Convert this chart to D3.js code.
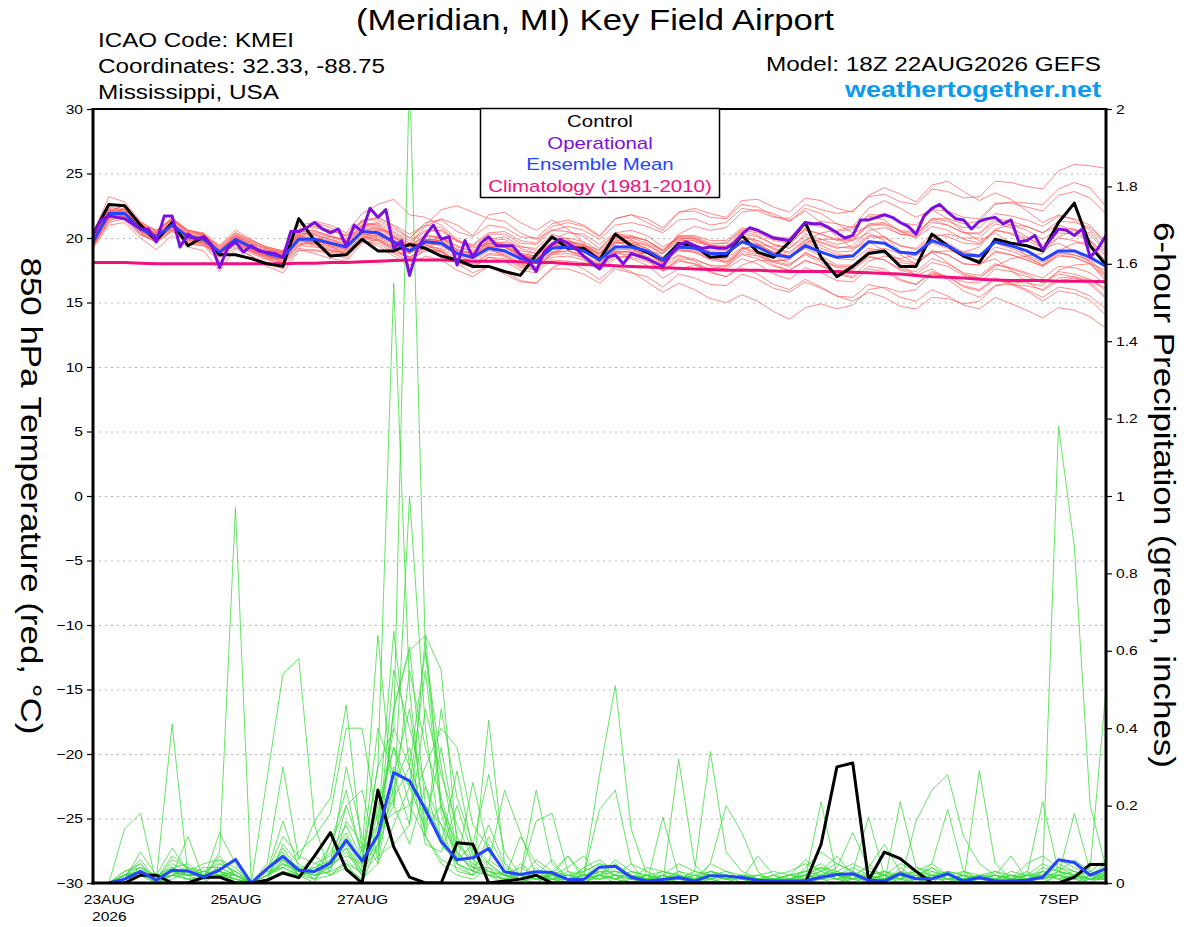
<!DOCTYPE html>
<html>
<head>
<meta charset="utf-8">
<script src="https://cdn.jsdelivr.net/npm/d3@7"></script>
<style>
  body { margin: 0; background: #fff; }
  svg { display: block; font-family: "Liberation Sans", Arial, Helvetica, sans-serif; }
</style>
</head>
<body>
<div id="chart"></div>
<script>
// GEFS run 18Z 22AUG2026, 6-hourly out to 384h (operational is 3-hourly)
const runStart = Date.UTC(2026, 7, 22, 18);
const HOUR = 3600 * 1000;

const tempTicks = [-30, -25, -20, -15, -10, -5, 0, 5, 10, 15, 20, 25, 30];
const precipTicks = [0, 0.2, 0.4, 0.6, 0.8, 1, 1.2, 1.4, 1.6, 1.8, 2];
const dateTicks = [
  Date.UTC(2026, 7, 23), Date.UTC(2026, 7, 25), Date.UTC(2026, 7, 27), Date.UTC(2026, 7, 29),
  Date.UTC(2026, 8, 1), Date.UTC(2026, 8, 3), Date.UTC(2026, 8, 5), Date.UTC(2026, 8, 7)
];
const dateLabels = ["23AUG", "25AUG", "27AUG", "29AUG", "1SEP", "3SEP", "5SEP", "7SEP"];

const legendItems = ["Control", "Operational", "Ensemble Mean", "Climatology (1981-2010)"];
const legendColors = ["#000000", "#7d0ee0", "#2444ff", "#f0107e"];

// 850 hPa temperature, 65 steps
const controlTemp = [20.3, 22.6, 22.5, 21.0, 19.8, 21.2, 19.4, 20.1, 18.7, 18.7, 18.4, 18.0, 17.8,
  21.5, 19.8, 18.6, 18.7, 19.9, 19.0, 19.0, 19.5, 19.2, 18.6, 18.3, 17.8, 17.8, 17.4, 17.1, 18.7,
  20.1, 19.2, 19.2, 18.3, 20.3, 19.4, 18.9, 18.3, 19.6, 19.4, 18.5, 18.6, 20.2, 18.9, 18.5, 19.7,
  21.2, 18.5, 17.0, 17.8, 18.8, 19.0, 17.8, 17.8, 20.3, 19.4, 18.6, 18.1, 19.9, 19.6, 19.4, 19.0,
  21.2, 22.7, 19.4, 17.9];

const meanTemp = [19.7, 21.9, 21.9, 20.7, 20.1, 21.0, 20.1, 19.9, 18.9, 19.9, 19.3, 18.8, 18.5,
  19.9, 19.9, 19.6, 19.3, 20.5, 20.4, 19.7, 19.0, 19.7, 19.6, 18.8, 18.5, 19.2, 19.0, 18.4, 18.2,
  19.2, 19.3, 19.0, 18.3, 19.3, 19.3, 19.0, 18.3, 19.3, 19.2, 18.8, 18.8, 19.7, 19.3, 18.7, 18.5,
  19.4, 18.9, 18.5, 18.6, 19.7, 19.6, 18.9, 18.8, 19.8, 19.4, 18.7, 18.6, 19.7, 19.4, 19.0, 18.3,
  19.0, 19.0, 18.5, 17.8];

const climoTemp = [18.1, 18.1, 18.1, 18.05, 18.0, 18.0, 18.0, 18.0, 18.0, 18.0,
  18.0, 18.0, 18.0, 18.05, 18.05, 18.1, 18.1, 18.15, 18.2, 18.25,
  18.3, 18.3, 18.3, 18.25, 18.2, 18.2, 18.2, 18.15, 18.1, 18.1,
  18.0, 17.95, 17.9, 17.85, 17.8, 17.75, 17.7, 17.65, 17.6, 17.55,
  17.5, 17.5, 17.5, 17.45, 17.4, 17.4, 17.4, 17.4, 17.35, 17.3,
  17.25, 17.2, 17.1, 17.0, 16.95, 16.9, 16.8, 16.75, 16.7, 16.7,
  16.7, 16.65, 16.65, 16.65, 16.6];

// operational run, 3-hourly, 129 steps
const operTemp = [20.2, 21.4, 21.7, 21.6, 21.5, 21.1, 20.7, 20.7, 19.7, 21.7,
  21.7, 19.3, 20.3, 19.9, 20.1, 19.4, 17.7, 19.2, 19.7, 18.9,
  19.4, 19.0, 18.9, 18.8, 18.5, 20.5, 20.5, 20.8, 21.2, 20.7,
  20.4, 20.7, 19.4, 21.0, 20.5, 22.3, 21.6, 22.2, 19.2, 19.8,
  17.1, 19.2, 20.2, 21.0, 19.9, 20.1, 17.9, 19.8, 18.5, 19.6,
  20.1, 19.4, 19.4, 19.4, 18.7, 18.3, 17.4, 18.9, 19.5, 19.9,
  19.6, 19.2, 18.6, 18.1, 17.6, 18.5, 18.7, 18.0, 18.8, 18.6,
  18.4, 18.1, 17.8, 18.7, 19.5, 19.7, 19.4, 19.2, 19.3, 19.2,
  19.2, 19.6, 20.3, 20.8, 20.6, 20.3, 20.0, 19.9, 19.8, 20.5,
  21.2, 21.1, 21.1, 20.8, 20.4, 20.0, 20.2, 21.4, 21.4, 21.6,
  21.8, 21.6, 21.2, 20.9, 20.3, 21.7, 22.3, 22.6, 22.0, 21.5,
  21.4, 20.7, 21.3, 21.5, 21.6, 21.1, 21.4, 19.7, 19.8, 20.2,
  19.1, 19.9, 20.7, 20.6, 20.2, 20.7, 18.5, 19.2, 20.2];

// ensemble members (thin red)
const memberTemp = [
  [19.6,21.6,22.4,20.9,20.3,21.3,20.4,20.2,19.3,20.3,19.7,19.1,18.9, 20.4,20.6,20.1,19.8,21.0,21.1,20.2,19.6,20.5,20.6,19.8,19.4,20.3,20.3,19.6,19.5, 20.6,20.9,20.6,19.9,21.0,21.2,20.9,20.4,21.4,21.5,21.0,21.2,22.3,22.1,21.6,21.5, 22.6,22.2,21.9,22.1,23.2,23.4,22.8,22.6,23.8,23.6,23.1,23.2,24.4,24.3,24.0,23.8,25.2,25.7,25.6,25.4],
  [19.4,21.2,21.5,20.4,19.6,20.6,19.6,19.4,18.2,19.3,18.6,18.0,17.6, 19.2,19.0,18.8,18.4,19.8,19.4,18.6,17.9,18.6,18.3,17.5,17.0,17.8,17.4,16.7,16.5, 17.6,17.6,17.2,16.5,17.6,17.3,17.0,16.2,17.2,16.9,16.4,16.3,17.2,16.8,16.1,15.8, 16.6,16.1,15.5,15.4,16.4,16.1,15.4,15.1,16.0,15.5,14.8,14.5,15.4,14.9,14.4,13.8,14.6,14.4,13.9,13.0],
  [20.0,22.2,22.0,21.0,20.5,21.5,20.6,20.3,19.1,20.4,19.8,19.3,19.0, 21.0,21.2,20.8,20.2,21.3,21.6,20.9,20.0,21.2,21.4,20.5,20.1,21.0,20.8,20.1,20.0, 21.1,21.4,21.0,20.2,21.5,21.8,21.2,20.6,22.0,22.3,21.9,21.6,22.9,23.0,22.4,22.0, 23.1,22.9,22.3,22.0,23.3,23.9,23.4,22.8,24.1,24.4,23.6,22.9,23.5,23.0,22.1,21.2,21.8,21.4,20.6,19.5],
  [19.5,21.8,21.6,20.5,19.9,20.7,19.8,19.6,18.6,19.6,19.0,18.5,18.2, 19.5,19.6,19.3,19.0,20.1,20.0,19.2,18.5,19.2,19.0,18.1,17.7,18.5,18.2,17.5,17.3, 18.3,18.2,17.6,16.8,17.8,17.4,16.6,15.8,16.5,16.0,15.3,15.0,15.6,15.1,14.3,13.7, 14.6,14.9,14.5,14.8,16.0,16.2,15.8,16.0,17.2,17.0,16.6,16.5,17.6,17.4,17.0,16.5,17.4,17.2,16.8,15.9],
  [19.8,22.0,22.2,20.9,20.3,21.2,20.3,20.1,19.1,20.1,19.5,19.0,18.7, 20.2,20.3,19.9,19.6,20.9,20.8,20.1,19.4,20.2,20.1,19.3,19.0,19.7,19.6,19.0,18.8, 19.9,20.0,19.7,19.0,20.1,20.1,19.8,19.1,20.2,20.2,19.8,19.8,20.8,20.5,19.9,19.7, 20.7,20.3,19.9,20.0,21.1,21.2,20.5,20.3,21.4,21.0,20.4,20.3,21.3,21.0,20.6,19.9,20.7,20.7,20.2,19.0],
  [19.3,21.4,21.7,20.3,19.7,20.5,19.7,19.5,18.5,19.5,18.8,18.3,18.1, 19.4,19.3,19.1,18.8,19.9,19.8,19.1,18.4,19.0,18.9,18.1,17.8,18.5,18.4,17.7,17.5, 18.5,18.6,18.3,17.6,18.6,18.5,18.2,17.5,18.4,18.3,17.9,17.8,18.7,18.4,17.8,17.5, 18.3,17.8,17.4,17.5,18.5,18.3,17.6,17.4,18.4,18.0,17.3,17.1,18.0,17.6,17.2,16.5,17.2,17.0,16.4,15.3],
  [19.9,22.5,22.6,21.1,20.1,21.0,20.0,19.8,18.9,20.0,19.4,18.9,18.6, 20.5,21.3,21.0,20.4,21.9,22.6,23.0,21.8,21.6,21.0,19.9,19.2,19.6,19.3,18.7,18.4, 19.3,19.5,19.2,18.5,19.4,19.3,19.0,18.2,19.0,18.9,18.3,18.1,19.0,18.7,17.9,17.5, 18.2,17.9,17.2,16.9,17.8,17.6,16.8,16.4,17.3,17.0,16.2,15.9,16.8,16.4,15.9,15.1,15.9,15.7,15.2,14.0],
  [19.6,21.9,21.7,20.6,20.2,21.1,20.2,19.9,18.8,20.1,19.4,18.8,18.5, 20.1,20.0,19.8,19.4,20.7,20.6,19.8,19.1,19.9,19.8,18.9,18.6,19.4,19.3,18.6,18.4, 19.4,19.7,19.5,18.8,20.0,20.1,19.8,19.0,20.0,19.9,19.4,19.4,20.5,20.2,19.5,19.2, 20.3,19.9,19.5,19.8,21.0,21.1,20.6,20.4,21.5,21.3,20.8,20.8,21.9,21.7,21.4,20.9,21.7,21.5,21.0,19.6],
  [19.2,21.0,21.2,20.0,19.1,20.2,19.3,19.0,17.4,19.2,18.6,17.8,17.3, 19.0,19.1,18.9,18.6,19.7,19.6,18.8,18.2,19.1,19.0,18.2,17.9,18.7,18.6,17.9,17.7, 18.8,19.0,18.7,18.0,19.1,19.1,18.8,18.0,19.1,19.0,18.5,18.4,19.3,18.9,18.2,17.9, 18.8,18.3,17.7,17.6,18.6,18.3,17.5,17.2,18.1,17.8,17.1,16.9,17.9,17.7,17.3,16.9,17.8,17.7,17.3,16.4],
  [20.2,22.3,22.1,21.1,20.6,21.4,20.5,20.3,19.2,20.2,19.6,19.2,18.9, 20.3,20.5,20.2,19.8,21.0,21.2,20.5,19.8,20.6,20.6,19.7,19.5,20.4,20.5,19.8,19.6, 20.9,21.2,20.9,20.1,21.5,21.8,21.5,20.8,22.0,22.1,21.6,21.5,22.6,22.4,21.7,21.3, 22.3,21.9,21.1,20.8,21.7,21.4,20.5,20.0,20.9,20.6,19.9,19.6,20.6,20.3,19.8,19.2,20.0,19.8,19.3,18.2],
  [19.7,21.5,21.9,20.6,20.0,20.9,20.1,19.7,18.8,19.8,19.2,18.6,18.4, 19.8,19.6,19.4,19.1,20.3,20.1,19.4,18.8,19.6,19.5,18.7,18.4,19.2,19.1,18.4,18.1, 19.2,19.2,18.9,18.2,19.3,19.2,18.9,18.1,19.1,18.9,18.4,18.2,19.2,18.8,18.1,17.8, 18.9,18.3,17.8,17.8,18.9,18.8,18.1,17.9,19.0,18.7,18.0,17.9,19.0,18.7,18.3,17.8,18.6,18.5,18.0,17.0],
  [20.1,22.1,22.5,21.2,20.6,21.5,20.6,20.4,19.4,20.4,19.8,19.3,19.0, 20.7,20.9,20.6,20.2,21.4,21.4,20.7,20.0,21.0,22.2,22.5,22.0,21.5,21.3,20.4,19.9, 20.6,20.5,20.1,19.2,20.3,20.2,19.8,19.0,20.1,20.0,19.4,19.2,20.2,19.8,19.1,18.8, 19.8,19.4,18.9,19.0,20.1,20.0,19.4,19.2,20.3,20.1,19.6,19.5,20.6,20.4,20.0,19.5,20.4,20.3,19.8,18.6],
  [19.4,21.7,21.4,20.2,19.8,20.8,19.9,19.6,18.7,19.6,19.0,18.6,18.2, 19.6,19.5,19.2,18.9,20.0,19.9,19.1,18.5,19.3,19.2,18.4,18.0,18.8,18.7,18.0,17.7, 18.7,18.8,18.5,17.7,18.8,18.7,18.3,17.5,18.3,18.0,17.3,17.0,17.7,17.2,16.4,16.0, 16.8,16.2,15.5,15.1,15.8,15.4,14.7,14.5,15.4,15.3,14.9,15.1,16.3,16.4,16.3,16.0,16.9,17.0,16.7,16.1],
  [19.7,21.8,22.0,20.8,20.2,21.1,20.2,19.9,18.9,19.9,19.3,18.8,18.6, 20.0,19.8,19.6,19.3,20.5,20.4,19.7,19.0,19.8,19.7,18.9,18.6,19.3,19.1,18.5,18.3, 19.3,19.4,19.1,18.5,19.6,19.7,19.4,18.8,19.9,20.0,19.5,19.6,20.7,20.6,20.1,20.0, 21.1,20.9,20.5,20.7,21.8,21.8,21.2,21.0,22.2,22.1,21.6,21.5,22.7,22.7,22.4,22.1,23.3,23.6,23.1,21.9],
  [19.5,21.6,21.9,20.5,20.0,20.8,19.9,19.7,18.7,19.7,19.1,18.6,18.3, 19.7,19.7,19.5,19.1,20.3,20.2,19.5,18.8,19.6,19.4,18.6,18.2,19.0,18.8,18.1,17.8, 18.9,19.0,18.6,17.9,19.0,18.9,18.5,17.7,18.6,18.4,17.8,17.6,18.4,18.0,17.2,16.8, 17.7,17.3,16.7,16.6,17.6,17.4,16.7,16.4,17.4,17.0,16.3,16.0,16.9,16.5,16.0,15.4,16.2,16.0,15.5,14.5],
  [20.3,23.2,22.8,21.3,20.5,21.6,20.5,20.2,19.0,20.2,19.6,19.1,18.8, 20.3,20.4,20.1,19.7,21.0,20.9,20.1,19.4,20.2,20.0,19.1,18.8,19.6,19.5,18.8,18.6, 19.7,19.8,19.5,18.8,19.8,19.8,19.5,18.8,19.8,19.8,19.4,19.3,20.3,20.1,19.5,19.2, 20.1,19.7,19.3,19.2,20.2,20.1,19.4,19.1,20.0,19.6,18.9,18.7,19.6,19.2,18.7,18.1,18.9,18.7,18.2,17.1],
  [19.8,22.0,21.8,20.7,20.2,21.0,20.1,19.8,18.8,19.8,19.2,18.7,18.4, 19.9,19.9,19.6,19.3,20.5,20.3,19.6,18.9,19.7,19.6,18.8,18.5,19.3,19.3,18.6,18.3, 19.4,19.5,19.2,18.5,19.6,19.6,19.2,18.5,19.6,19.5,19.0,19.0,20.0,19.8,19.2,18.9, 19.9,19.6,19.2,19.4,20.6,20.8,20.3,20.2,21.5,21.5,21.1,21.3,22.6,22.8,22.7,22.6,23.8,24.3,23.9,22.4],
  [19.6,21.7,21.9,20.7,20.0,20.9,20.0,19.7,18.7,19.8,19.1,18.6,18.4, 19.8,19.7,19.5,19.2,20.4,20.3,19.6,18.9,19.5,19.1,18.0,17.3,17.8,17.2,16.6,16.5, 17.7,18.2,18.1,17.6,18.9,19.0,18.8,18.1,19.2,19.2,18.8,18.8,19.8,19.5,18.9,18.6, 19.6,19.2,18.7,18.7,19.8,19.6,18.9,18.6,19.6,19.2,18.5,18.3,19.3,19.0,18.5,17.9,18.7,18.5,18.0,16.8],
  [19.9,22.1,21.9,20.8,20.3,21.2,20.2,20.0,19.0,20.0,19.3,18.9,18.6, 20.1,20.2,19.9,19.5,20.8,20.7,20.0,19.3,20.1,20.0,19.1,18.8,19.6,19.4,18.8,18.6, 19.6,19.6,19.3,18.6,19.7,19.6,19.2,18.5,19.5,19.4,18.9,18.8,19.8,19.5,18.9,18.6, 19.5,19.0,18.4,18.3,19.2,19.0,18.3,18.0,19.0,18.7,18.0,17.9,18.9,18.7,18.3,17.8,18.8,18.7,18.3,17.2],
  [19.8,21.9,22.1,20.8,20.1,21.1,20.2,19.9,18.9,19.9,19.3,18.8,18.5, 20.0,20.0,19.7,19.4,20.6,20.5,19.8,19.1,19.9,19.8,19.0,18.7,19.4,19.3,18.7,18.5, 19.5,19.7,19.4,18.7,19.9,20.0,19.6,19.0,20.1,20.1,19.6,19.6,20.6,20.4,19.8,19.6, 20.6,20.3,19.8,19.9,21.0,21.0,20.3,20.1,21.2,21.0,20.4,20.4,21.5,21.3,20.9,20.4,21.3,21.2,20.8,19.7],
  [19.9,22.4,22.2,20.8,20.4,21.5,20.3,20.0,18.8,19.7,19.2,18.9,18.8, 20.2,19.6,19.0,18.7,20.0,20.2,19.8,19.5,20.9,21.5,21.0,20.2,21.8,22.0,21.2,20.6, 21.4,20.7,19.6,18.3,19.0,18.4,17.9,16.9,17.6,17.9,17.4,17.7,19.1,19.5,19.3,19.4, 20.8,21.3,21.1,20.4,20.9,20.1,19.0,18.3,18.9,18.1,17.2,16.9,17.8,18.4,18.6,18.8,20.1,20.6,20.4,19.2],
  [19.3,21.3,21.8,20.5,19.8,20.6,19.5,19.4,18.9,20.2,19.4,18.7,18.0, 19.1,18.8,18.4,18.2,19.6,19.9,19.3,18.8,19.8,20.0,19.4,18.9,19.8,19.9,19.2,18.8, 19.6,19.1,18.4,17.5,18.4,18.6,18.9,18.8,20.3,20.9,20.6,20.8,22.0,22.2,21.9,21.3, 22.1,21.2,20.1,19.2,19.7,19.0,17.9,17.1,17.6,16.8,15.9,15.4,16.3,16.6,16.5,16.3,17.5,17.9,18.0,17.5],
  [20.0,22.0,22.6,21.2,20.0,20.7,19.9,20.2,19.4,20.6,19.9,19.2,18.9, 20.6,20.3,19.4,18.7,19.9,20.7,20.4,19.6,19.5,18.9,18.3,18.4,19.9,20.1,19.4,19.0, 19.9,20.4,20.3,19.5,20.4,19.9,19.0,18.0,18.7,18.2,17.4,17.0,17.9,18.3,18.2,18.4, 19.8,20.4,20.6,20.9,22.3,22.9,22.3,21.6,22.2,21.5,20.5,19.8,20.4,19.6,18.6,17.9,19.0,19.6,19.7,18.9],
  [19.5,21.5,22.0,20.9,20.4,21.4,20.6,20.3,18.9,19.6,18.9,18.4,18.4, 20.0,20.8,20.6,20.1,21.2,21.0,20.1,19.2,19.9,19.8,18.9,18.5,19.5,19.7,19.3,19.2, 20.3,19.9,19.1,18.1,18.9,18.9,18.6,18.0,19.4,19.7,19.4,19.3,20.2,19.6,18.6,18.0, 18.7,18.1,17.3,17.0,18.2,18.6,18.4,18.7,20.1,20.3,20.0,20.0,21.1,20.8,20.1,19.2,19.6,19.0,18.1,16.6],
  [19.7,22.2,21.6,20.3,19.9,21.0,20.0,19.5,18.5,19.5,19.0,18.4,18.0, 19.4,19.9,20.1,19.9,21.3,21.6,21.0,20.3,21.0,20.8,19.8,19.3,19.9,19.4,18.5,18.0, 18.9,19.3,19.4,19.1,20.4,20.6,20.2,19.3,20.0,19.5,18.6,18.1,18.8,18.6,18.2,18.3, 19.6,19.9,19.9,19.8,20.4,19.8,18.7,18.0,18.9,19.0,18.9,19.3,20.7,21.0,20.9,20.4,21.0,20.6,19.8,18.1],
  [19.4,21.9,22.3,21.0,20.2,20.9,19.8,19.8,19.0,19.9,19.1,18.8,18.7, 19.9,19.4,19.0,18.9,20.2,19.8,18.9,18.5,19.4,19.6,19.1,18.8,19.2,18.6,17.8,17.6, 18.8,19.3,19.3,18.8,19.7,19.3,18.4,17.4,18.2,18.0,17.6,17.9,19.2,19.3,18.9,18.6, 19.2,18.6,17.9,17.9,19.0,19.2,18.8,18.8,19.9,19.4,18.6,18.0,18.4,17.5,16.6,15.9,16.7,16.9,16.6,15.4]
];

// 6-hour precipitation, steps 1..64 (inches)
const controlPrecip = [0, 0, 0.02, 0.02, 0, 0, 0.015, 0.015, 0, 0, 0.007, 0.026, 0.014, 0.07, 0.13, 0.035,
  0, 0.24, 0.093, 0.015, 0, 0, 0.104, 0.10, 0, 0.005, 0.01, 0.02, 0, 0, 0, 0,
  0, 0, 0, 0, 0, 0, 0, 0, 0, 0, 0, 0, 0, 0.1, 0.3, 0.31,
  0.007, 0.08, 0.063, 0.03, 0, 0, 0, 0, 0, 0, 0, 0, 0, 0.015, 0.048, 0.048];

const meanPrecip = [0, 0.01, 0.03, 0.007, 0.033, 0.031, 0.015, 0.034, 0.061, 0, 0.037, 0.069, 0.033, 0.03, 0.052, 0.11,
  0.057, 0.124, 0.285, 0.264, 0.19, 0.107, 0.06, 0.065, 0.089, 0.029, 0.022, 0.029, 0.027, 0.009, 0.009, 0.041,
  0.043, 0.015, 0.005, 0.009, 0.014, 0.005, 0.019, 0.018, 0.014, 0.007, 0.005, 0.005, 0.005, 0.015, 0.022, 0.024,
  0.007, 0.005, 0.024, 0.011, 0.011, 0.024, 0.005, 0.014, 0.005, 0.005, 0.007, 0.015, 0.06, 0.053, 0.02, 0.037];

// ensemble members (thin green)
const memberPrecip = [
  [0,0.14,0.18,0,0.02,0.01,0,0.03, 0,0,0.02,0.05,0.03,0.01,0.06,0.12, 0.05,0.30,1.55,0.50,0.12,0.05,0.02,0.01, 0.04,0,0,0.02,0.06,0.01,0,0.03, 0.01,0,0,0.02,0,0,0.01,0, 0,0,0,0,0.01,0.03,0.07,0.02, 0,0.01,0,0.02,0,0,0.01,0, 0,0,0,0.03,0.01,0,0.02,0.04],
  [0,0.02,0.04,0.01,0.41,0.02,0,0.05, 0.03,0,0.04,0.08,0.02,0,0.10,0.20, 0.08,0.15,0.40,2.10,0.60,0.30,0.08,0.03, 0.10,0.02,0,0.04,0.01,0,0.02,0.19, 0.24,0.05,0,0,0.03,0.01,0,0.02, 0.01,0,0,0,0,0.02,0.01,0, 0.02,0,0.04,0.01,0,0.03,0,0, 0,0.01,0,0,0.02,0.18,0.03,0.01],
  [0,0.01,0.08,0.02,0.09,0.03,0.01,0.08, 0.97,0,0.01,0.03,0.01,0.05,0.04,0.08, 0.02,0.23,0.20,1.00,0.40,0.10,0.29,0.08, 0.02,0,0.05,0.02,0,0,0.01,0.02, 0,0.01,0,0.17,0.02,0,0.03,0.01, 0,0.01,0,0,0.02,0.04,0.01,0.03, 0.17,0.02,0,0.01,0.04,0.01,0,0.01, 0,0,0.01,0,0,0.02,0,0.05],
  [0,0.01,0.03,0.01,0.02,0.12,0.01,0.02, 0.01,0,0.27,0.54,0.58,0.15,0.02,0.05, 0,0.10,0.45,0.61,0.20,0.12,0.05,0.26, 0.08,0.03,0.01,0,0.02,0,0.04,0.02, 0.01,0,0.02,0,0.32,0.05,0,0, 0.02,0.01,0,0.01,0.01,0.21,0.02,0, 0,0.03,0.01,0,0.02,0,0.01,0.02, 0.01,0,0.02,0.21,0.03,0.01,0,0.02],
  [0,0.03,0.05,0,0.03,0.02,0.02,0.06, 0.02,0,0.03,0.16,0.04,0.01,0.05,0.30, 0.12,0.05,0.28,0.15,0.64,0.55,0.10,0.05, 0.03,0.01,0.02,0.16,0.18,0.03,0,0.02, 0.05,0.02,0.01,0,0.02,0.01,0.05,0.20, 0.13,0.03,0,0.01,0.02,0.01,0,0.02, 0.01,0,0.21,0.04,0.03,0.02,0.01,0, 0,0.02,0.01,0.03,1.18,0.87,0.20,0.04],
  [0,0.02,0.03,0.01,0.04,0.05,0.02,0.03, 0.01,0,0.05,0.30,0.06,0.16,0.22,0.46, 0.08,0.64,0.20,0.10,0.25,0.15,0.03,0.02, 0.42,0.05,0.01,0,0.03,0.07,0.02,0.28, 0.51,0.14,0.02,0,0.01,0,0.03,0.02, 0.01,0.07,0.02,0,0.01,0,0,0.01, 0.03,0.02,0,0.16,0.24,0.28,0.12,0.05, 0.02,0.01,0,0.02,0.05,0.03,0.01,0.02],
  [0,0.01,0.02,0,0.01,0.03,0.01,0.13, 0.05,0,0.02,0.04,0.08,0.12,0.18,0.40, 0.40,0.15,0.65,0.30,0.10,0.08,0.20,0.07, 0.05,0.24,0.13,0.02,0.01,0,0.03,0.05, 0.02,0,0.01,0.02,0.05,0.03,0.34,0.08, 0.03,0.01,0,0,0,0.01,0.03,0.01, 0,0,0.02,0.01,0.05,0.19,0.03,0.01, 0.02,0.07,0.01,0,0.02,0.01,0.04,0.50],
  [0,0.02,0.06,0.01,0.07,0.04,0.03,0.05, 0.03,0,0.02,0.09,0.03,0.07,0.04,0.20, 0.24,0.06,0.45,0.60,0.64,0.20,0.06,0.10, 0.28,0.08,0.02,0.24,0.05,0.01,0,0.02, 0.03,0.02,0,0.01,0,0.02,0.01,0, 0,0,0.01,0.02,0.03,0.05,0.02,0.01, 0.05,0.01,0.03,0,0.01,0.02,0,0.29, 0.05,0.01,0,0.03,0.02,0,0.01,0.03],
  [0,0.01,0.03,0,0.02,0.02,0.04,0.04, 0.02,0,0.04,0.06,0.02,0.03,0.08,0.15, 0.06,0.40,0.28,0.45,0.15,0.35,0.12,0.04, 0.02,0.01,0.12,0.05,0.02,0.07,0.01,0.02, 0.06,0.03,0.01,0.02,0.01,0.03,0.02,0.01, 0.02,0.01,0.02,0.03,0.05,0.03,0.01,0.02, 0.04,0.10,0.03,0.01,0.02,0,0.03,0.01, 0.01,0.02,0.01,0.02,0.06,0.04,0.02,0.01],
  [0,0.03,0.04,0.01,0.05,0.03,0.05,0.06, 0.04,0,0.01,0.10,0.05,0.02,0.05,0.10, 0.03,0.18,0.35,0.25,0.55,0.18,0.05,0.02, 0.06,0.03,0.01,0.06,0.03,0.02,0.01,0.01, 0.02,0.05,0.03,0.01,0,0.01,0.02,0.03, 0.01,0,0.01,0,0.04,0.08,0.05,0.03, 0.01,0.02,0.05,0.03,0.01,0.01,0.02,0, 0,0.01,0.03,0.01,0.03,0.02,0.01,0.02],
  [0,0.02,0.02,0.01,0.06,0.04,0.02,0.07, 0.02,0,0.02,0.05,0.02,0.04,0.06,0.09, 0.02,0.12,0.20,0.55,0.35,0.22,0.08,0.03, 0.12,0.04,0.02,0.01,0.01,0.01,0.04,0.06, 0.03,0.02,0.01,0.03,0.02,0,0.05,0.03, 0.02,0.01,0,0.01,0.03,0.02,0.04,0.13, 0.04,0.02,0.01,0.02,0.04,0.02,0.01,0.02, 0.03,0.01,0.02,0.05,0.03,0.06,0.03,0.02],
  [0,0.01,0.04,0.02,0.03,0.01,0.02,0.03, 0.01,0,0.03,0.04,0.02,0.03,0.10,0.24, 0.06,0.30,0.40,0.30,0.60,0.20,0.10,0.06, 0.03,0.02,0.01,0.03,0.02,0.04,0.07,0.02, 0.01,0.03,0.02,0.01,0.03,0.02,0.01,0.02, 0,0.02,0.03,0.02,0.03,0.04,0.02,0.01, 0.02,0.03,0.01,0.04,0.02,0.03,0.02,0.01, 0.02,0.01,0.05,0.07,0.04,0.02,0.03,0.06],
  [0,0.02,0.03,0.02,0.04,0.02,0.03,0.02, 0.02,0,0.02,0.07,0.04,0.02,0.03,0.16, 0.10,0.08,0.25,0.35,0.12,0.45,0.22,0.10, 0.05,0.02,0.04,0.02,0.01,0.03,0.02,0.04, 0.02,0.01,0.04,0.03,0.01,0.03,0.02,0.01, 0.02,0.01,0.01,0.02,0.06,0.03,0.02,0.04, 0.02,0.01,0.03,0.02,0.01,0.02,0.03,0.02, 0.01,0.03,0.02,0.01,0.02,0.03,0.02,0.05],
  [0,0.01,0.02,0.01,0.02,0.03,0.01,0.02, 0.03,0,0.01,0.06,0.03,0.04,0.02,0.06, 0.02,0.15,0.18,0.20,0.30,0.40,0.35,0.15, 0.09,0.03,0.02,0.01,0.02,0.02,0.03,0.05, 0.04,0.01,0.02,0.03,0.02,0.01,0.03,0.02, 0.01,0.02,0.01,0.01,0.02,0.04,0.03,0.05, 0.03,0.02,0.01,0.03,0.05,0.02,0.01,0.01, 0.02,0.01,0.01,0.02,0.04,0.03,0.01,0.03],
  [0,0.02,0.05,0.01,0.03,0.02,0.02,0.04, 0.02,0,0.03,0.12,0.07,0.05,0.07,0.13, 0.05,0.10,0.55,0.40,0.25,0.10,0.05,0.03, 0.02,0.01,0.01,0.02,0.02,0.01,0.02,0.03, 0.02,0.02,0.01,0.01,0.01,0.02,0.03,0.02, 0.01,0.01,0,0.01,0.02,0.03,0.05,0.03, 0.01,0.01,0.02,0.03,0.02,0.01,0.02,0.01, 0.03,0.02,0.01,0.04,0.03,0.02,0.01,0.03],
  [0,0.01,0.02,0.01,0.02,0.04,0.02,0.02, 0.01,0,0.02,0.05,0.03,0.02,0.03,0.05, 0.03,0.07,0.10,0.15,0.45,0.28,0.15,0.06, 0.15,0.05,0.02,0.03,0.01,0.02,0.01,0.02, 0.01,0.03,0.02,0.01,0.02,0.01,0.02,0.01, 0.02,0.02,0.01,0.02,0.02,0.01,0.02,0.02, 0.02,0.03,0.02,0.01,0.01,0.03,0.02,0.01, 0.01,0.02,0.02,0.03,0.01,0.02,0.01,0.01],
  [0,0.02,0.03,0.01,0.03,0.03,0.02,0.03, 0.02,0,0.04,0.07,0.02,0.03,0.04,0.11, 0.04,0.20,0.35,0.20,0.12,0.06,0.04,0.02, 0.05,0.02,0.01,0.02,0.01,0.02,0.01,0.03, 0.03,0.02,0.01,0.02,0.01,0.02,0.01,0.02, 0.01,0.01,0.02,0.01,0.02,0.02,0.03,0.02, 0.01,0.02,0.02,0.01,0.02,0.01,0.01,0.02, 0.02,0.01,0.02,0.02,0.02,0.01,0.02,0.02],
  [0,0.01,0.02,0,0.02,0.01,0.01,0.02, 0.01,0,0.01,0.03,0.02,0.01,0.02,0.04, 0.01,0.05,0.15,0.25,0.20,0.15,0.08,0.04, 0.03,0.02,0.01,0.01,0.01,0.01,0.02,0.01, 0.02,0.01,0.01,0.01,0.01,0.01,0.02,0.01, 0.01,0.01,0.01,0.01,0.01,0.02,0.01,0.01, 0.01,0.01,0.01,0.02,0.01,0.01,0.01,0.01, 0.01,0.01,0.01,0.01,0.02,0.01,0.01,0.01],
  [0,0.01,0.03,0.01,0.03,0.02,0.02,0.03, 0.02,0,0.02,0.04,0.02,0.03,0.05,0.07, 0.05,0.12,0.22,0.30,0.18,0.12,0.05,0.03, 0.02,0.03,0.02,0.01,0.02,0.01,0.02,0.01, 0.02,0.01,0.02,0.01,0.02,0.01,0.01,0.02, 0.01,0.01,0.01,0.02,0.01,0.01,0.02,0.01, 0.02,0.01,0.02,0.01,0.02,0.02,0.01,0.01, 0.01,0.02,0.01,0.02,0.01,0.02,0.01,0.01],
  [0,0.02,0.02,0.01,0.04,0.02,0.03,0.02, 0.02,0,0.02,0.06,0.03,0.02,0.04,0.09, 0.03,0.09,0.30,0.25,0.14,0.20,0.07,0.04, 0.04,0.02,0.02,0.01,0.02,0.01,0.01,0.02, 0.01,0.02,0.01,0.02,0.01,0.01,0.02,0.01, 0.02,0.01,0.01,0.01,0.02,0.01,0.01,0.02, 0.01,0.02,0.01,0.01,0.03,0.01,0.02,0.01, 0.02,0.01,0.02,0.01,0.03,0.02,0.01,0.02]
];

const W = 1200, H = 927;
const plot = { left: 93, right: 1106, top: 109, bottom: 883 };

// the reference lettering is wider than Liberation Sans, stretch it
const stretch = (sel, target) => sel.each(function () {
  const w = this.getComputedTextLength();
  this.setAttribute("textLength", target || w * 1.2);
  this.setAttribute("lengthAdjust", "spacingAndGlyphs");
});

const svg = d3.select("#chart").append("svg")
  .attr("width", W)
  .attr("height", H);

const x = d3.scaleUtc()
  .domain([runStart, runStart + 384 * HOUR])
  .range([plot.left, plot.right]);
const yT = d3.scaleLinear().domain([-30, 30]).range([plot.bottom, plot.top]);
const yP = d3.scaleLinear().domain([0, 2]).range([plot.bottom, plot.top]);

svg.append("clipPath").attr("id", "plotclip")
  .append("rect")
  .attr("x", plot.left).attr("y", plot.top)
  .attr("width", plot.right - plot.left).attr("height", plot.bottom - plot.top);

// dotted grid at temperature ticks
svg.append("g")
  .attr("stroke", "#b4b4b4")
  .attr("stroke-width", 1)
  .attr("stroke-dasharray", "2,4")
  .selectAll("line")
  .data(tempTicks.filter(d => d > -30 && d < 30))
  .join("line")
  .attr("x1", plot.left).attr("x2", plot.right)
  .attr("y1", d => yT(d) + 0.5).attr("y2", d => yT(d) + 0.5);

const lineT = (hours) => d3.line()
  .x((d, i) => x(runStart + i * hours * HOUR))
  .y(d => yT(d));
const lineP = d3.line()
  .x((d, i) => x(runStart + (i + 1) * 6 * HOUR))
  .y(d => yP(d));

const marks = svg.append("g").attr("clip-path", "url(#plotclip)")
  .attr("fill", "none")
  .attr("stroke-linejoin", "round");

marks.append("g")
  .attr("stroke", "#3ddc3d")
  .attr("stroke-width", 0.8)
  .selectAll("path")
  .data(memberPrecip)
  .join("path")
  .attr("d", lineP);

marks.append("g")
  .attr("stroke", "#ff5252")
  .attr("stroke-opacity", 0.85)
  .attr("stroke-width", 0.8)
  .selectAll("path")
  .data(memberTemp)
  .join("path")
  .attr("d", lineT(6));

marks.append("path").datum(controlPrecip)
  .attr("stroke", "#000").attr("stroke-width", 3).attr("d", lineP);
marks.append("path").datum(meanPrecip)
  .attr("stroke", legendColors[2]).attr("stroke-width", 3).attr("d", lineP);

marks.append("path").datum(climoTemp)
  .attr("stroke", legendColors[3]).attr("stroke-width", 3).attr("d", lineT(6));
marks.append("path").datum(controlTemp)
  .attr("stroke", "#000").attr("stroke-width", 3).attr("d", lineT(6));
marks.append("path").datum(meanTemp)
  .attr("stroke", legendColors[2]).attr("stroke-width", 3).attr("d", lineT(6));
marks.append("path").datum(operTemp)
  .attr("stroke", legendColors[1]).attr("stroke-width", 3).attr("d", lineT(3));

// axes
const leftAxis = svg.append("g")
  .attr("transform", `translate(${plot.left},0)`)
  .call(d3.axisLeft(yT).tickValues(tempTicks).tickSize(6).tickPadding(4));
const rightAxis = svg.append("g")
  .attr("transform", `translate(${plot.right},0)`)
  .call(d3.axisRight(yP).tickValues(precipTicks).tickSize(6).tickPadding(4)
    .tickFormat(d => d3.format("~g")(d)));
const bottomAxis = svg.append("g")
  .attr("transform", `translate(0,${plot.bottom})`)
  .call(d3.axisBottom(x).tickValues(dateTicks).tickSize(0).tickPadding(12)
    .tickFormat((d, i) => dateLabels[i]));

// year under the first date
bottomAxis.select(".tick")
  .append("text")
  .attr("y", 38)
  .text("2026");

[leftAxis, rightAxis, bottomAxis].forEach(a => {
  a.select(".domain").remove();
  a.selectAll("text")
    .attr("font-family", "'Liberation Sans', Arial, sans-serif")
    .attr("font-size", 13)
    .attr("fill", "#000")
    .call(stretch);
  a.selectAll(".tick line").attr("stroke", "#000").attr("stroke-width", 1.2);
});

// frame
const frame = svg.append("g").attr("stroke", "#000").attr("fill", "none");
frame.append("line").attr("x1", plot.left).attr("x2", plot.right)
  .attr("y1", plot.top).attr("y2", plot.top).attr("stroke-width", 2);
frame.append("line").attr("x1", plot.left - 1.5).attr("x2", plot.right + 1.5)
  .attr("y1", plot.bottom).attr("y2", plot.bottom).attr("stroke-width", 3);
frame.append("line").attr("x1", plot.left).attr("x2", plot.left)
  .attr("y1", plot.top - 1).attr("y2", plot.bottom + 1.5).attr("stroke-width", 3);
frame.append("line").attr("x1", plot.right).attr("x2", plot.right)
  .attr("y1", plot.top - 1).attr("y2", plot.bottom + 1.5).attr("stroke-width", 3);

// legend box
const legend = svg.append("g");
legend.append("rect")
  .attr("x", 480.5).attr("y", 108.5)
  .attr("width", 239).attr("height", 89)
  .attr("fill", "#fff")
  .attr("stroke", "#000")
  .attr("stroke-width", 1.5);
legend.selectAll("text")
  .data(legendItems)
  .join("text")
  .attr("x", 600)
  .attr("y", (d, i) => 127 + i * 21.5)
  .attr("text-anchor", "middle")
  .attr("font-size", 17)
  .attr("fill", (d, i) => legendColors[i])
  .text(d => d)
  .call(stretch);

// titles
svg.append("text")
  .attr("x", 595).attr("y", 30)
  .attr("text-anchor", "middle")
  .attr("font-size", 29)
  .text("(Meridian, MI) Key Field Airport")
  .call(stretch, 478);

const info = svg.append("g").attr("font-size", 20);
info.append("text").attr("x", 98).attr("y", 47).text("ICAO Code: KMEI").call(stretch, 196);
info.append("text").attr("x", 98).attr("y", 73).text("Coordinates: 32.33, -88.75").call(stretch, 287);
info.append("text").attr("x", 98).attr("y", 99).text("Mississippi, USA").call(stretch, 181);
info.append("text").attr("x", 1101).attr("y", 71)
  .attr("text-anchor", "end").text("Model: 18Z 22AUG2026 GEFS").call(stretch, 335);
info.append("text").attr("x", 1101).attr("y", 97)
  .attr("text-anchor", "end")
  .attr("font-weight", "bold")
  .attr("font-size", 22)
  .attr("fill", "#0a9bf0")
  .text("weathertogether.net")
  .call(stretch, 256);

svg.append("text")
  .attr("transform", "translate(21,496) rotate(90)")
  .attr("text-anchor", "middle")
  .attr("font-size", 29)
  .text("850 hPa Temperature (red, °C)")
  .call(stretch, 477);

svg.append("text")
  .attr("transform", "translate(1154,495) rotate(90)")
  .attr("text-anchor", "middle")
  .attr("font-size", 29)
  .text("6-hour Precipitation (green, inches)")
  .call(stretch, 546);
</script>
</body>
</html>
